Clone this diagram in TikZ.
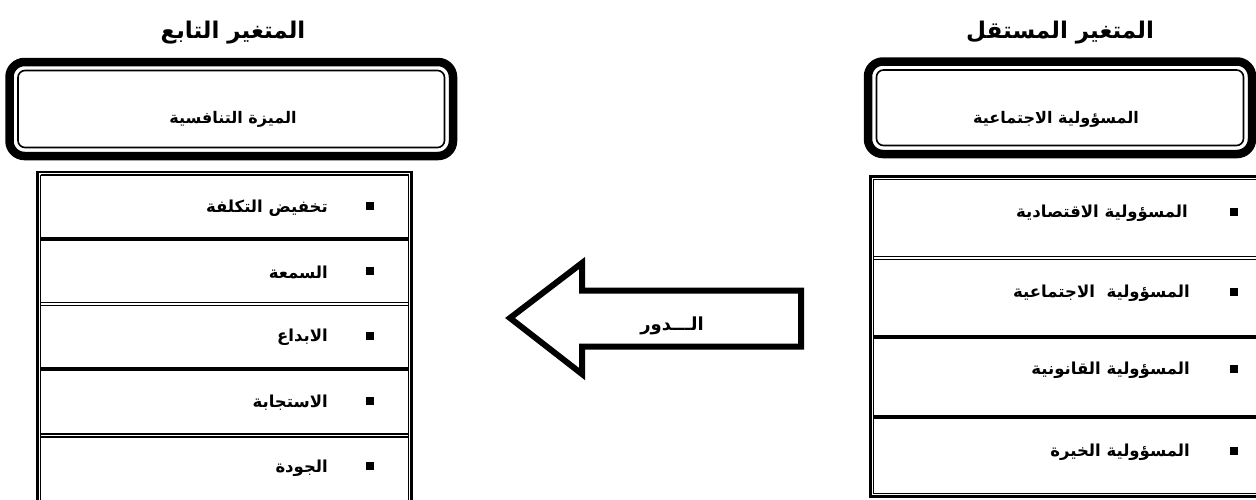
\documentclass[tikz,border=0pt]{standalone}
\usepackage{fontspec}
\newfontfamily\arabicfont[Script=Arabic]{DejaVu Sans}
\TeXXeTstate=1
\begin{document}
\begin{tikzpicture}[x=1pt,y=-1pt,
  title/.style={font=\arabicfont\bfseries\fontsize{23}{27}\selectfont, inner sep=0pt},
  hdrtext/.style={font=\arabicfont\bfseries\fontsize{16}{19}\selectfont, inner sep=0pt},
  arrtext/.style={font=\arabicfont\bfseries\fontsize{18}{21}\selectfont, inner sep=0pt},
  itemtext/.style={font=\arabicfont\bfseries\fontsize{16.5}{19}\selectfont, inner sep=0pt, anchor=east},
  bul/.style={fill=black, draw=none, minimum size=8pt, inner sep=0pt},
  outerframe/.style={line width=8.5pt, rounded corners=15pt},
  innerframe/.style={line width=1.6pt, rounded corners=7pt},
  thickrule/.style={line width=4pt},
  dblthick/.style={line width=2.2pt},
  dblthin/.style={line width=1.3pt},
  arrowshape/.style={line width=6pt, line join=miter}
]
\useasboundingbox (0,0) rectangle (1256,499);

% ---------- titles ----------
\node[title] (tl) at (233,33) {\beginR المتغير التابع\endR};
\node[title] (tr) at (1060,33) {\beginR المتغير المستقل\endR};

% ---------- header boxes ----------
\draw[outerframe] (9.5,62) rectangle (453,156);
\draw[innerframe] (18,70.5) rectangle (444.5,147.5);
\node[hdrtext] (hl) at (233,119) {\beginR الميزة التنافسية\endR};

\draw[outerframe] (868,61.5) rectangle (1252,154);
\draw[innerframe] (876.5,70) rectangle (1243.5,145.5);
\node[hdrtext] (hr) at (1056,119) {\beginR المسؤولية الاجتماعية\endR};

% ---------- left table ----------
\draw[dblthick] (37.5,171) -- (37.5,502);
\draw[dblthin] (40.5,174.5) -- (40.5,502);
\draw[dblthin] (408.5,174.5) -- (408.5,502);
\draw[dblthick] (411.5,171) -- (411.5,502);
\draw[dblthick] (36.4,172) -- (412.6,172);
\draw[dblthin] (40.5,175) -- (408.5,175);
\draw[thickrule] (40.5,239) -- (408.5,239);
\draw[dblthin] (40.5,302.5) -- (408.5,302.5);
\draw[dblthin] (40.5,305.5) -- (408.5,305.5);
\draw[thickrule] (40.5,369) -- (408.5,369);
\draw[dblthin] (40.5,434) -- (408.5,434);
\draw[dblthin] (40.5,437) -- (408.5,437);

\node[bul] (lb1) at (370,206) {};
\node[bul] (lb2) at (370,271) {};
\node[bul] (lb3) at (370,336) {};
\node[bul] (lb4) at (370,401) {};
\node[bul] (lb5) at (370,466) {};
\node[itemtext] (li1) at (328,208) {\beginR تخفيض التكلفة\endR};
\node[itemtext] (li2) at (328,272) {\beginR السمعة\endR};
\node[itemtext] (li3) at (328,337) {\beginR الابداع\endR};
\node[itemtext] (li4) at (328,403) {\beginR الاستجابة\endR};
\node[itemtext] (li5) at (328,468) {\beginR الجودة\endR};

% ---------- right table ----------
\draw[dblthick] (870.5,175.5) -- (870.5,497.5);
\draw[dblthin] (873.3,179) -- (873.3,494);
\draw[dblthick] (869.4,176.5) -- (1260,176.5);
\draw[dblthin] (873.3,179.5) -- (1260,179.5);
\draw[dblthin] (873.3,256.5) -- (1260,256.5);
\draw[dblthin] (873.3,259.5) -- (1260,259.5);
\draw[thickrule] (873.3,336.5) -- (1260,336.5);
\draw[thickrule] (873.3,416.5) -- (1260,416.5);
\draw[dblthin] (873.3,493.5) -- (1260,493.5);
\draw[dblthick] (869.4,496.5) -- (1260,496.5);

\node[bul] (rb1) at (1234,212) {};
\node[bul] (rb2) at (1234,292) {};
\node[bul] (rb3) at (1234,369) {};
\node[bul] (rb4) at (1234,451) {};
\node[itemtext] (ri1) at (1188,213) {\beginR المسؤولية الاقتصادية\endR};
\node[itemtext] (ri2) at (1190,293) {\beginR المسؤولية~~الاجتماعية\endR};
\node[itemtext] (ri3) at (1190,370) {\beginR المسؤولية القانونية\endR};
\node[itemtext] (ri4) at (1190,452) {\beginR المسؤولية الخيرة\endR};

% ---------- big arrow ----------
\draw[arrowshape] (510,318) -- (582,263) -- (582,290.5) -- (801,290.5)
  -- (801,346.5) -- (582,346.5) -- (582,374) -- cycle;
\node[arrtext] (ar) at (672,326) {\beginR الـــدور\endR};
\end{tikzpicture}
\end{document}
